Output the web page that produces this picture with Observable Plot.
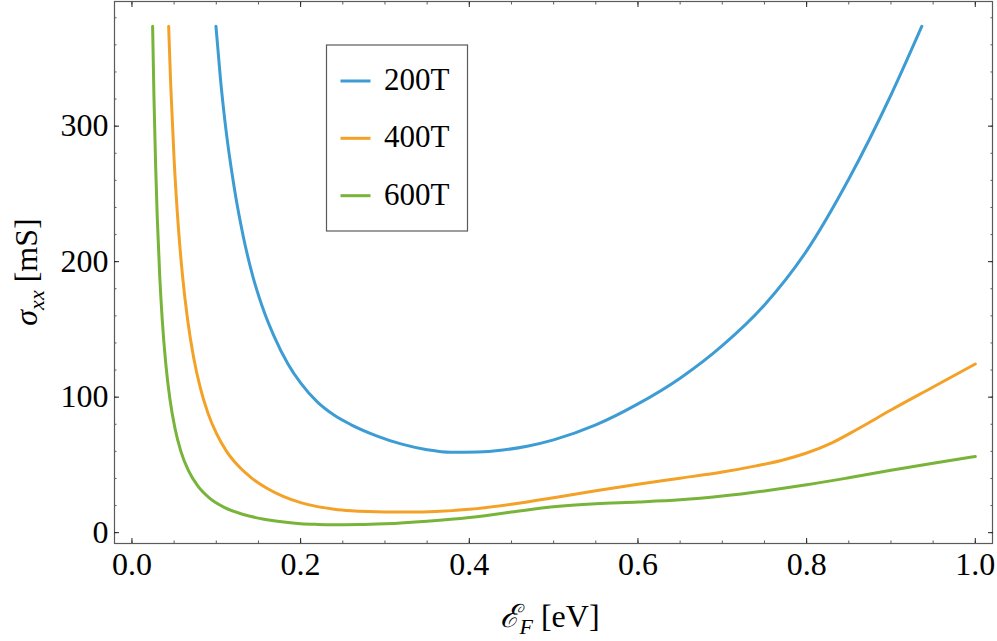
<!DOCTYPE html>
<html>
<head>
<meta charset="utf-8">
<script src="https://cdn.jsdelivr.net/npm/d3@7"></script>
<script src="https://cdn.jsdelivr.net/npm/@observablehq/plot@0.6"></script>
<style>
  html, body { margin: 0; padding: 0; background: #fff; }
</style>
</head>
<body>
<div id="chart"></div>
<script>
// ---- data ----
const seriesNames = ["200T", "400T", "600T"];
const seriesColors = ["#3d9cd4", "#f4a128", "#78b43a"];

const energies200 = [0.0996, 0.105, 0.110, 0.1213, 0.132, 0.143, 0.155, 0.1687, 0.185, 0.2004, 0.22, 0.24, 0.26, 0.29, 0.32, 0.35, 0.378, 0.41, 0.44, 0.47, 0.50, 0.55, 0.60, 0.65, 0.70, 0.75, 0.80, 0.85, 0.90, 0.9366];
const sigma200    = [373.7, 334.5, 305, 254.5, 218.6, 189.9, 166.0, 144.7, 124.5, 110.1, 96.3, 86.6, 79.6, 71.5, 65.3, 61.2, 59.3, 59.5, 61, 64, 68.5, 79.5, 95, 114, 138, 168, 208, 261, 323, 373.7];

const energies400 = [0.0435, 0.046, 0.050, 0.055, 0.060, 0.066, 0.073, 0.081, 0.090, 0.100, 0.112, 0.126, 0.142, 0.16, 0.18, 0.20, 0.22, 0.24, 0.26, 0.28, 0.30, 0.33, 0.36, 0.40, 0.45, 0.50, 0.55, 0.60, 0.65, 0.70, 0.74, 0.77, 0.80, 0.83, 0.86, 0.90, 0.95, 1.0];
const sigma400    = [373.7, 329.8, 275.2, 225.6, 189.3, 157.1, 129.7, 107.0, 88.4, 73.4, 60.2, 49.3, 40.3, 32.8, 26.6, 22.2, 19.2, 17.3, 16.2, 15.6, 15.3, 15.2, 15.6, 17.2, 21.0, 25.8, 31.0, 35.8, 40.2, 44.7, 49.3, 53.3, 58.8, 66.3, 76.3, 90.5, 107.5, 124.5];

const energies600 = [0.0245, 0.026, 0.028, 0.030, 0.033, 0.036, 0.040, 0.045, 0.051, 0.058, 0.067, 0.078, 0.092, 0.110, 0.130, 0.155, 0.18, 0.20, 0.22, 0.24, 0.27, 0.30, 0.35, 0.40, 0.45, 0.50, 0.55, 0.60, 0.65, 0.70, 0.75, 0.80, 0.85, 0.90, 0.95, 1.0];
const sigma600    = [373.7, 323.7, 272.3, 232.8, 188.5, 156.3, 125.3, 98.6, 77.0, 60.0, 45.7, 34.5, 25.5, 18.5, 13.8, 10.1, 7.8, 6.6, 6.1, 5.9, 6.0, 6.6, 8.5, 11.2, 15.2, 19.2, 21.4, 22.6, 24.2, 27.0, 30.8, 35.3, 40.5, 46.0, 51.2, 56.2];

const xMajorTicks = [0, 0.2, 0.4, 0.6, 0.8, 1.0];
const xTickLabels = ["0.0", "0.2", "0.4", "0.6", "0.8", "1.0"];
const xMinorTicks = d3.range(0, 21).map(i => i / 20);
const yMajorTicks = [0, 100, 200, 300];
const yTickLabels = ["0", "100", "200", "300"];
const yMinorTicks = d3.range(0, 20).map(i => i * 20);

// ---- build table ----
const rows = [];
[[energies200, sigma200], [energies400, sigma400], [energies600, sigma600]].forEach(([xs, ys], k) => {
  xs.forEach((x, i) => rows.push({series: seriesNames[k], E: x, sigma: ys[i]}));
});

const fmtX = d => xTickLabels[xMajorTicks.indexOf(d)];
const fmtY = d => yTickLabels[yMajorTicks.indexOf(d)];

const frameColor = "#5a5a5a";
const serif = "'Liberation Serif', 'DejaVu Serif', serif";

const chart = Plot.plot({
  width: 997,
  height: 641,
  marginLeft: 114,
  marginRight: 5,
  marginTop: 1,
  marginBottom: 98,
  style: {fontFamily: serif, fontSize: "32px", color: "#000", background: "#fff"},
  x: {domain: [-0.0207, 1.0204]},
  y: {domain: [-8, 392]},
  color: {domain: seriesNames, range: seriesColors},
  marks: [
    Plot.frame({stroke: frameColor, strokeWidth: 1.2}),
    // minor ticks
    Plot.axisX({anchor: "bottom", ticks: xMinorTicks, tickSize: -2.5, fill: "none", stroke: frameColor, label: null}),
    Plot.axisX({anchor: "top", ticks: xMinorTicks, tickSize: -2.5, fill: "none", stroke: frameColor, label: null}),
    Plot.axisY({anchor: "left", ticks: yMinorTicks, tickSize: -2.5, fill: "none", stroke: frameColor, label: null}),
    Plot.axisY({anchor: "right", ticks: yMinorTicks, tickSize: -2.5, fill: "none", stroke: frameColor, label: null}),
    // major ticks
    Plot.axisX({anchor: "bottom", ticks: xMajorTicks, tickSize: -5, tickPadding: 14, tickFormat: fmtX, stroke: "#222", fill: "#000", label: null}),
    Plot.axisX({anchor: "top", ticks: xMajorTicks, tickSize: -5, fill: "none", stroke: "#222", label: null}),
    Plot.axisY({anchor: "left", ticks: yMajorTicks, tickSize: -5, tickPadding: 11, tickFormat: fmtY, stroke: "#222", fill: "#000", label: null}),
    Plot.axisY({anchor: "right", ticks: yMajorTicks, tickSize: -5, fill: "none", stroke: "#222", label: null}),
    // curves
    Plot.line(rows, {x: "E", y: "sigma", z: "series", stroke: "series", strokeWidth: 3, curve: "monotone-x"})
  ]
});

document.getElementById("chart").appendChild(chart);

// ---- axis labels with sub-scripts ----
const svg = d3.select(chart);

const xl = svg.append("text")
  .attr("x", 550).attr("y", 627)
  .attr("text-anchor", "middle")
  .attr("font-family", serif).attr("font-size", 32).attr("fill", "#000");
xl.append("tspan").attr("font-style", "italic").text("ℰ");
xl.append("tspan").attr("font-style", "italic").attr("font-size", 22).attr("dy", 7).text("F");
xl.append("tspan").attr("dy", -7).text(" [eV]");

const yl = svg.append("text")
  .attr("transform", "translate(37,272) rotate(-90)")
  .attr("text-anchor", "middle")
  .attr("font-family", serif).attr("font-size", 32).attr("fill", "#000");
yl.append("tspan").attr("font-style", "italic").text("σ");
yl.append("tspan").attr("font-style", "italic").attr("font-size", 22).attr("dy", 7).text("xx");
yl.append("tspan").attr("dy", -7).text(" [mS]");

// ---- legend ----
const lg = svg.append("g");
lg.append("rect").attr("x", 326.5).attr("y", 45).attr("width", 141).attr("height", 186)
  .attr("fill", "#fff").attr("stroke", frameColor).attr("stroke-width", 1.2);
const legendY = [81, 138.3, 195.7];
seriesNames.forEach((name, i) => {
  lg.append("line").attr("x1", 340.5).attr("x2", 370.5).attr("y1", legendY[i]).attr("y2", legendY[i])
    .attr("stroke", seriesColors[i]).attr("stroke-width", 3);
  lg.append("text").attr("x", 384).attr("y", legendY[i] + 9)
    .attr("text-anchor", "start")
    .attr("font-family", serif).attr("font-size", 31).attr("fill", "#000").text(name);
});
</script>
</body>
</html>
